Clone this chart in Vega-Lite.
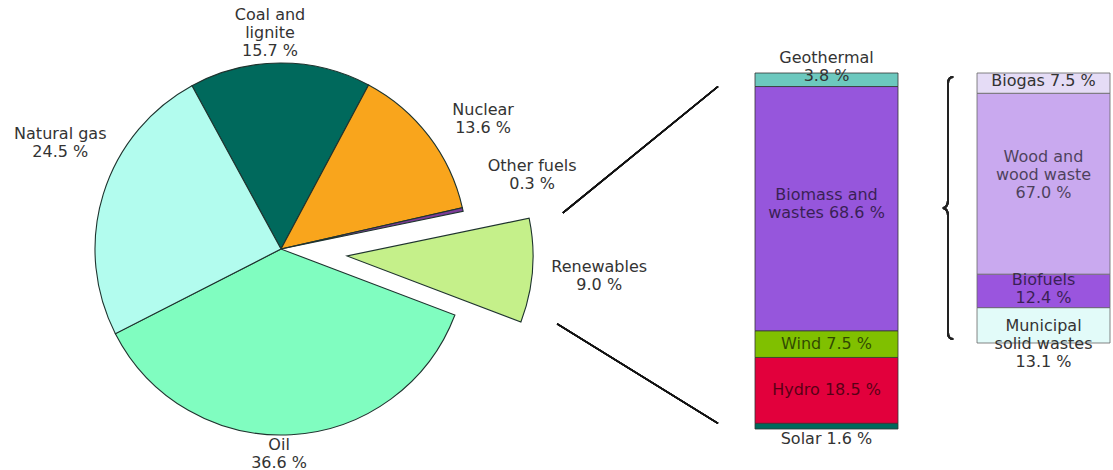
{
  "$schema": "https://vega.github.io/schema/vega-lite/v6.json",
  "padding": {"left": 0, "top": 7, "right": 0, "bottom": 0},
  "config": {
    "view": {"stroke": null},
    "font": "DejaVu Sans",
    "text": {"font": "DejaVu Sans", "fontSize": 16, "lineHeight": 18, "lineBreak": "\n", "align": "center", "baseline": "middle"}
  },
  "spacing": 37,
  "bounds": "flush",
  "resolve": {"scale": {"color": "independent"}},
  "hconcat": [
    {
      "width": 718,
      "height": 356,
      "data": {
        "values": [
          {"source": "Coal and lignite", "caption": "Coal and\nlignite\n", "share": 15.7, "rank": 1},
          {"source": "Nuclear", "caption": "Nuclear\n", "share": 13.6, "rank": 2},
          {"source": "Other fuels", "caption": "Other fuels\n", "share": 0.3, "rank": 3},
          {"source": "Renewables", "caption": "Renewables\n", "share": 9.0, "rank": 4},
          {"source": "Oil", "caption": "Oil\n", "share": 36.6, "rank": 5},
          {"source": "Natural gas", "caption": "Natural gas\n", "share": 24.5, "rank": 6}
        ]
      },
      "transform": [
        {"stack": "share", "groupby": [], "sort": [{"field": "rank", "order": "ascending"}], "as": ["t0", "t1"]},
        {"calculate": "(datum.t0 + datum.t1) / 2", "as": "tmid"},
        {"calculate": "datum.caption + format(datum.share, '.1f') + ' %'", "as": "label"}
      ],
      "layer": [
        {
          "transform": [{"filter": "datum.source !== 'Renewables'"}],
          "mark": {"type": "arc", "outerRadius": 186, "stroke": "#1e332e", "strokeWidth": 1.1, "xOffset": -78, "yOffset": -2},
          "encoding": {
            "theta": {"field": "t0", "type": "quantitative", "stack": null, "scale": {"domain": [0, 99.7], "range": [-0.4992, 5.784]}},
            "theta2": {"field": "t1"},
            "color": {
              "field": "source", "type": "nominal", "legend": null,
              "scale": {
                "domain": ["Coal and lignite", "Nuclear", "Other fuels", "Renewables", "Oil", "Natural gas"],
                "range": ["#00695c", "#f9a51c", "#7d3c98", "#c5f08a", "#80fdc0", "#b2fcee"]
              }
            }
          }
        },
        {
          "transform": [{"filter": "datum.source === 'Renewables'"}],
          "mark": {"type": "arc", "outerRadius": 186, "stroke": "#1e332e", "strokeWidth": 1.1, "xOffset": -12, "yOffset": 5},
          "encoding": {
            "theta": {"field": "t0", "type": "quantitative", "stack": null},
            "theta2": {"field": "t1"},
            "color": {"field": "source", "type": "nominal", "legend": null}
          }
        },
        {
          "transform": [{"filter": "datum.source === 'Coal and lignite'"}],
          "mark": {"type": "text", "radius": 216, "xOffset": -78, "yOffset": -2, "dx": -10, "dy": -18, "fill": "#333"},
          "encoding": {"theta": {"field": "tmid", "type": "quantitative", "stack": null}, "text": {"field": "label"}}
        },
        {
          "transform": [{"filter": "datum.source === 'Nuclear'"}],
          "mark": {"type": "text", "radius": 214, "xOffset": -78, "yOffset": -2, "dx": 32, "dy": -9, "fill": "#333"},
          "encoding": {"theta": {"field": "tmid", "type": "quantitative", "stack": null}, "text": {"field": "label"}}
        },
        {
          "transform": [{"filter": "datum.source === 'Other fuels'"}],
          "mark": {"type": "text", "radius": 257, "xOffset": -78, "yOffset": -2, "dy": -28, "fill": "#333"},
          "encoding": {"theta": {"field": "tmid", "type": "quantitative", "stack": null}, "text": {"field": "label"}}
        },
        {
          "transform": [{"filter": "datum.source === 'Renewables'"}],
          "mark": {"type": "text", "radius": 253, "xOffset": -12, "yOffset": 5, "dy": -9, "fill": "#333"},
          "encoding": {"theta": {"field": "tmid", "type": "quantitative", "stack": null}, "text": {"field": "label"}}
        },
        {
          "transform": [{"filter": "datum.source === 'Oil'"}],
          "mark": {"type": "text", "radius": 202, "xOffset": -78, "yOffset": -2, "dx": -13, "dy": -6, "fill": "#333"},
          "encoding": {"theta": {"field": "tmid", "type": "quantitative", "stack": null}, "text": {"field": "label"}}
        },
        {
          "transform": [{"filter": "datum.source === 'Natural gas'"}],
          "mark": {"type": "text", "radius": 231, "xOffset": -78, "yOffset": -2, "dy": -47, "fill": "#333"},
          "encoding": {"theta": {"field": "tmid", "type": "quantitative", "stack": null}, "text": {"field": "label"}}
        },
        {
          "mark": {"type": "rule", "stroke": "#111", "strokeWidth": 1.5},
          "encoding": {
            "x": {"datum": 0.784, "type": "quantitative", "scale": {"domain": [0, 1]}, "axis": null},
            "x2": {"datum": 1},
            "y": {"datum": 60.7, "type": "quantitative", "scale": {"domain": [0, 100]}, "axis": null},
            "y2": {"datum": 96.2}
          }
        },
        {
          "mark": {"type": "rule", "stroke": "#111", "strokeWidth": 1.5},
          "encoding": {
            "x": {"datum": 0.776, "type": "quantitative"},
            "x2": {"datum": 1},
            "y": {"datum": 29.5, "type": "quantitative"},
            "y2": {"datum": 1.6}
          }
        }
      ]
    },
    {
      "width": 143,
      "height": 356,
      "data": {
        "values": [
          {"group": "Renewables", "source": "Solar", "caption": "Solar ", "share": 1.6, "rank": 1},
          {"group": "Renewables", "source": "Hydro", "caption": "Hydro ", "share": 18.5, "rank": 2},
          {"group": "Renewables", "source": "Wind", "caption": "Wind ", "share": 7.5, "rank": 3},
          {"group": "Renewables", "source": "Biomass and wastes", "caption": "Biomass and\nwastes ", "share": 68.6, "rank": 4},
          {"group": "Renewables", "source": "Geothermal", "caption": "Geothermal\n", "share": 3.8, "rank": 5}
        ]
      },
      "transform": [
        {"stack": "share", "groupby": ["group"], "sort": [{"field": "rank", "order": "ascending"}], "as": ["b0", "b1"]},
        {"calculate": "(datum.b0 + datum.b1) / 2", "as": "bmid"},
        {"calculate": "datum.caption + format(datum.share, '.1f') + ' %'", "as": "label"}
      ],
      "encoding": {
        "x": {"field": "group", "type": "nominal", "axis": null, "scale": {"paddingInner": 0, "paddingOuter": 0}}
      },
      "layer": [
        {
          "mark": {"type": "bar", "stroke": "#333", "strokeWidth": 0.8},
          "encoding": {
            "y": {"field": "b0", "type": "quantitative", "stack": null, "axis": null, "scale": {"domain": [0, 100]}},
            "y2": {"field": "b1"},
            "color": {
              "field": "source", "type": "nominal", "legend": null,
              "scale": {
                "domain": ["Solar", "Hydro", "Wind", "Biomass and wastes", "Geothermal"],
                "range": ["#00695c", "#e2003c", "#80c000", "#9656dc", "#6cc8be"]
              }
            }
          }
        },
        {
          "transform": [{"filter": "datum.source === 'Biomass and wastes'"}],
          "mark": {"type": "text", "fill": "#000", "opacity": 0.62, "dy": -14},
          "encoding": {
            "y": {"field": "bmid", "type": "quantitative", "stack": null},
            "text": {"field": "label"}
          }
        },
        {
          "transform": [{"filter": {"field": "source", "oneOf": ["Hydro", "Wind"]}}],
          "mark": {"type": "text", "fill": "#000", "opacity": 0.62},
          "encoding": {
            "y": {"field": "bmid", "type": "quantitative", "stack": null},
            "text": {"field": "label"}
          }
        },
        {
          "transform": [{"filter": "datum.source === 'Geothermal'"}],
          "mark": {"type": "text", "fill": "#333", "dy": -15},
          "encoding": {
            "y": {"field": "b1", "type": "quantitative", "stack": null},
            "text": {"field": "label"}
          }
        },
        {
          "transform": [{"filter": "datum.source === 'Solar'"}],
          "mark": {"type": "text", "fill": "#333", "dy": 10},
          "encoding": {
            "y": {"field": "b0", "type": "quantitative", "stack": null},
            "text": {"field": "label"}
          }
        }
      ]
    },
    {
      "width": 175,
      "height": 270,
      "data": {
        "values": [
          {"group": "Biomass and wastes", "source": "Municipal solid wastes", "caption": "Municipal\nsolid wastes\n", "share": 13.1, "rank": 1},
          {"group": "Biomass and wastes", "source": "Biofuels", "caption": "Biofuels\n", "share": 12.4, "rank": 2},
          {"group": "Biomass and wastes", "source": "Wood and wood waste", "caption": "Wood and\nwood waste\n", "share": 67.0, "rank": 3},
          {"group": "Biomass and wastes", "source": "Biogas", "caption": "Biogas ", "share": 7.5, "rank": 4}
        ]
      },
      "transform": [
        {"stack": "share", "groupby": ["group"], "sort": [{"field": "rank", "order": "ascending"}], "as": ["b0", "b1"]},
        {"calculate": "(datum.b0 + datum.b1) / 2", "as": "bmid"},
        {"calculate": "datum.caption + format(datum.share, '.1f') + ' %'", "as": "label"}
      ],
      "layer": [
        {
          "mark": {"type": "bar", "stroke": "#666", "strokeWidth": 0.8},
          "encoding": {
            "x": {"field": "group", "type": "nominal", "axis": null, "scale": {"paddingInner": 0, "paddingOuter": 0.158, "align": 1}},
            "y": {"field": "b0", "type": "quantitative", "stack": null, "axis": null, "scale": {"domain": [0, 100]}},
            "y2": {"field": "b1"},
            "color": {
              "field": "source", "type": "nominal", "legend": null,
              "scale": {
                "domain": ["Municipal solid wastes", "Biofuels", "Wood and wood waste", "Biogas"],
                "range": ["#e2fbf9", "#9a55de", "#c9a9ef", "#e5dcf6"]
              }
            }
          }
        },
        {
          "transform": [{"filter": "datum.source === 'Biogas'"}],
          "mark": {"type": "text", "fill": "#333", "dy": -2},
          "encoding": {
            "x": {"field": "group", "type": "nominal"},
            "y": {"field": "bmid", "type": "quantitative", "stack": null},
            "text": {"field": "label"}
          }
        },
        {
          "transform": [{"filter": "datum.source === 'Wood and wood waste'"}],
          "mark": {"type": "text", "fill": "#000", "opacity": 0.62, "dy": -27},
          "encoding": {
            "x": {"field": "group", "type": "nominal"},
            "y": {"field": "bmid", "type": "quantitative", "stack": null},
            "text": {"field": "label"}
          }
        },
        {
          "transform": [{"filter": "datum.source === 'Biofuels'"}],
          "mark": {"type": "text", "fill": "#000", "opacity": 0.62, "dy": -11},
          "encoding": {
            "x": {"field": "group", "type": "nominal"},
            "y": {"field": "bmid", "type": "quantitative", "stack": null},
            "text": {"field": "label"}
          }
        },
        {
          "transform": [{"filter": "datum.source === 'Municipal solid wastes'"}],
          "mark": {"type": "text", "fill": "#333", "dy": 1},
          "encoding": {
            "x": {"field": "group", "type": "nominal"},
            "y": {"field": "bmid", "type": "quantitative", "stack": null},
            "text": {"field": "label"}
          }
        },
        {
          "mark": {
            "type": "point",
            "shape": "M 0.04 -1 C 0.01 -1 0 -0.98 0 -0.95 L 0 -0.06 C 0 -0.02 -0.02 0 -0.04 0 C -0.02 0 0 0.02 0 0.06 L 0 0.95 C 0 0.98 0.01 1 0.04 1",
            "size": 68644,
            "filled": false,
            "stroke": "#222",
            "strokeWidth": 2,
            "opacity": 1,
            "xOffset": -74.5
          },
          "encoding": {
            "y": {"datum": 50, "type": "quantitative"}
          }
        }
      ]
    }
  ]
}
